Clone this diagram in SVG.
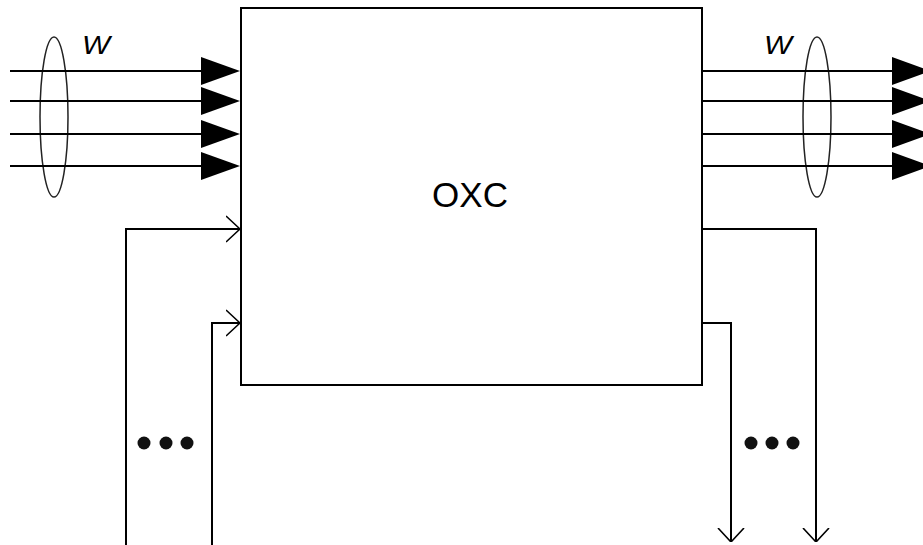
<svg xmlns="http://www.w3.org/2000/svg" width="923" height="545" viewBox="0 0 923 545">
<defs>
<style>
.ln{stroke:#000;stroke-width:2;fill:none}
.el{stroke:#222;stroke-width:1.5;fill:none}
.tri{fill:#000}
.dot{fill:#111}
.lbl{font-family:"Liberation Sans",Arial,sans-serif;fill:#000}
</style>
<marker id="open" viewBox="0 0 14 28" refX="14" refY="14" markerWidth="14" markerHeight="28" markerUnits="userSpaceOnUse" orient="auto">
<path d="M0,1 L14,14 L0,27" stroke="#000" stroke-width="1.6" fill="none"/>
</marker>
</defs>
<rect width="923" height="545" fill="#fff"/>
<g id="oxc">
<rect x="241" y="8" width="461" height="377" class="ln"/>
<text x="470" y="207" text-anchor="middle" font-size="35" class="lbl">OXC</text>
</g>
<g id="input-bundle">
<ellipse cx="54" cy="117" rx="14" ry="80" class="el"/>
<text x="82" y="54" font-size="26" font-style="italic" class="lbl" textLength="28" lengthAdjust="spacingAndGlyphs">W</text>
</g>
<g id="output-bundle">
<ellipse cx="817" cy="117" rx="14" ry="80" class="el"/>
<text x="764" y="54" font-size="26" font-style="italic" class="lbl" textLength="28" lengthAdjust="spacingAndGlyphs">W</text>
</g>
<g id="connectors">
<line x1="10" y1="71" x2="205" y2="71" class="ln"/>
<line x1="10" y1="101" x2="205" y2="101" class="ln"/>
<line x1="10" y1="134" x2="205" y2="134" class="ln"/>
<line x1="10" y1="166" x2="205" y2="166" class="ln"/>
<polygon points="201,57 240,71 201,85" class="tri"/>
<polygon points="201,87 240,101 201,115" class="tri"/>
<polygon points="201,120 240,134 201,148" class="tri"/>
<polygon points="201,152 240,166 201,180" class="tri"/>
<line x1="702" y1="71" x2="895" y2="71" class="ln"/>
<line x1="702" y1="101" x2="895" y2="101" class="ln"/>
<line x1="702" y1="134" x2="895" y2="134" class="ln"/>
<line x1="702" y1="166" x2="895" y2="166" class="ln"/>
<polygon points="892,57 931,71 892,85" class="tri"/>
<polygon points="892,87 931,101 892,115" class="tri"/>
<polygon points="892,120 931,134 892,148" class="tri"/>
<polygon points="892,152 931,166 892,180" class="tri"/>
<polyline points="126,545 126,229 240,229" class="ln" marker-end="url(#open)"/>
<polyline points="212,545 212,323 240,323" class="ln" marker-end="url(#open)"/>
<polyline points="702,229 816,229 816,542" class="ln" marker-end="url(#open)"/>
<polyline points="702,323 731,323 731,542" class="ln" marker-end="url(#open)"/>
</g>
<g id="dots-left">
<circle cx="144" cy="443" r="6.5" class="dot"/>
<circle cx="166" cy="443" r="6.5" class="dot"/>
<circle cx="187" cy="443" r="6.5" class="dot"/>
</g>
<g id="dots-right">
<circle cx="751" cy="443" r="6.5" class="dot"/>
<circle cx="772" cy="443" r="6.5" class="dot"/>
<circle cx="793" cy="443" r="6.5" class="dot"/>
</g>
</svg>
